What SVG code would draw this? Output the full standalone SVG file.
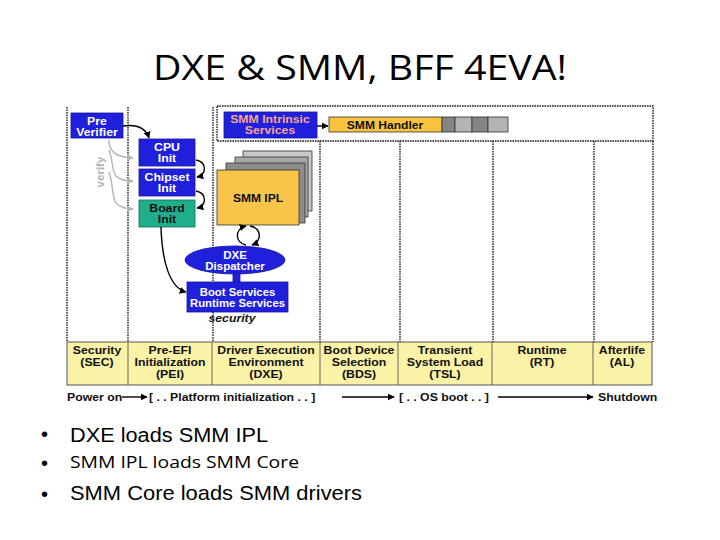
<svg xmlns="http://www.w3.org/2000/svg" width="720" height="540" viewBox="0 0 720 540">
<style>
.t{font-family:"Liberation Sans",Arial,sans-serif;font-weight:bold;font-size:10.5px;text-anchor:middle}
.w{fill:#ffffff}
.k{fill:#111111}
.pk{fill:#f4a48c}
.blue{fill:#2020dc;stroke:#15159a;stroke-width:0.8}
.dot{stroke:#1a1a1a;stroke-width:1.4;stroke-dasharray:1.6 0.9;fill:none}
.arr{stroke:#000;stroke-width:1.4;fill:none;marker-end:url(#ah)}
.garr{stroke:#b4b4b4;stroke-width:1.4;fill:none;marker-end:url(#gh)}
.bul{font-family:"Liberation Sans",Arial,sans-serif;fill:#000}
</style>
<defs>
<marker id="ah" viewBox="0 0 10 10" refX="9" refY="5" markerWidth="7" markerHeight="7" markerUnits="userSpaceOnUse" orient="auto"><path d="M0,0 L10,5 L0,10 z" fill="#000"/></marker>
<marker id="gh" viewBox="0 0 10 10" refX="9" refY="5" markerWidth="7" markerHeight="7" markerUnits="userSpaceOnUse" orient="auto"><path d="M0,0 L10,5 L0,10 z" fill="#b4b4b4"/></marker>
</defs>
<rect width="720" height="540" fill="#ffffff"/>

<text x="360" y="80" font-family="'Open Sans','Noto Sans',sans-serif" font-size="35" text-anchor="middle" textLength="414" lengthAdjust="spacingAndGlyphs" fill="#000">DXE &amp; SMM, BFF 4EVA!</text>

<g id="frame">
<path class="dot" d="M67,107 V342 M128,107 V342 M213,107 V342 M320,141 V342 M400,141 V342 M493,141 V342 M594,141 V342"/>
<rect class="dot" x="217" y="106" width="436" height="35"/>
<path class="dot" d="M653,141 V342"/>
</g>

<g id="phases">
<rect x="67" y="342" width="585" height="43" fill="#faf2a6" stroke="#555" stroke-width="1"/>
<path d="M128,342 V385 M212,342 V385 M320,342 V385 M398,342 V385 M492,342 V385 M593,342 V385" stroke="#666" stroke-width="1"/>
<g class="t k">
<text transform="translate(97 354) scale(1.17 1)">Security</text>
<text transform="translate(97 366) scale(1.17 1)">(SEC)</text>
<text transform="translate(170 354) scale(1.17 1)">Pre-EFI</text>
<text transform="translate(170 366) scale(1.17 1)">Initialization</text>
<text transform="translate(170 378) scale(1.17 1)">(PEI)</text>
<text transform="translate(266 354) scale(1.17 1)">Driver Execution</text>
<text transform="translate(266 366) scale(1.17 1)">Environment</text>
<text transform="translate(266 378) scale(1.17 1)">(DXE)</text>
<text transform="translate(359 354) scale(1.17 1)">Boot Device</text>
<text transform="translate(359 366) scale(1.17 1)">Selection</text>
<text transform="translate(359 378) scale(1.17 1)">(BDS)</text>
<text transform="translate(445 354) scale(1.17 1)">Transient</text>
<text transform="translate(445 366) scale(1.17 1)">System Load</text>
<text transform="translate(445 378) scale(1.17 1)">(TSL)</text>
<text transform="translate(542 354) scale(1.17 1)">Runtime</text>
<text transform="translate(542 366) scale(1.17 1)">(RT)</text>
<text transform="translate(622 354) scale(1.17 1)">Afterlife</text>
<text transform="translate(622 366) scale(1.17 1)">(AL)</text>
</g>
</g>

<g id="timeline" class="t k" style="text-anchor:start">
<text transform="translate(67 401) scale(1.17 1)">Power on</text>
<text transform="translate(149 401) scale(1.17 1)">[ . . Platform initialization . . ]</text>
<text transform="translate(399 401) scale(1.17 1)">[ . . OS boot . . ]</text>
<text transform="translate(598 401) scale(1.17 1)">Shutdown</text>
</g>

<g id="pre-verifier">
<rect class="blue" x="71" y="113" width="52" height="25"/>
<text class="t w" transform="translate(97 125) scale(1.17 1)">Pre</text>
<text class="t w" transform="translate(97 136) scale(1.17 1)">Verifier</text>
</g>
<g id="cpu-init">
<rect class="blue" x="139" y="139" width="56" height="27"/>
<text class="t w" transform="translate(167 151) scale(1.17 1)">CPU</text>
<text class="t w" transform="translate(167 162) scale(1.17 1)">Init</text>
</g>
<g id="chipset-init">
<rect class="blue" x="139" y="169" width="56" height="27"/>
<text class="t w" transform="translate(167 181) scale(1.17 1)">Chipset</text>
<text class="t w" transform="translate(167 192) scale(1.17 1)">Init</text>
</g>
<g id="board-init">
<rect x="139" y="200" width="56" height="27" fill="#1fae8c" stroke="#107058" stroke-width="0.8"/>
<text class="t k" transform="translate(167 212) scale(1.17 1)">Board</text>
<text class="t k" transform="translate(167 223) scale(1.17 1)">Init</text>
</g>
<g id="verify-label">
<text class="t" fill="#b4b4b4" font-size="11" transform="translate(104 172) rotate(-90) scale(1.1 1)">verify</text>
</g>

<g id="smm-intrinsic">
<rect class="blue" x="224" y="112" width="93" height="26"/>
<text class="t pk" transform="translate(270 123) scale(1.17 1)">SMM Intrinsic</text>
<text class="t pk" transform="translate(270 134) scale(1.17 1)">Services</text>
</g>
<g id="smm-handler">
<rect x="329" y="117" width="113" height="15" fill="#f8c440" stroke="#333" stroke-width="0.8"/>
<rect x="442" y="117" width="13" height="15" fill="#848484" stroke="#333" stroke-width="0.8"/>
<rect x="455" y="117" width="17" height="15" fill="#b4b4b4" stroke="#333" stroke-width="0.8"/>
<rect x="472" y="117" width="16" height="15" fill="#848484" stroke="#333" stroke-width="0.8"/>
<rect x="488" y="117" width="20" height="15" fill="#b4b4b4" stroke="#333" stroke-width="0.8"/>
<text class="t k" font-size="11" transform="translate(385 128.5) scale(1.15 1)">SMM Handler</text>
</g>

<g id="smm-ipl">
<rect x="243" y="151" width="69" height="60" fill="#c8c8c8" stroke="#333" stroke-width="0.8"/>
<rect x="235" y="157" width="73" height="60" fill="#a8a8a8" stroke="#333" stroke-width="0.8"/>
<rect x="226" y="163" width="79" height="60" fill="#8c8c8c" stroke="#333" stroke-width="0.8"/>
<rect x="217" y="170" width="82" height="55" fill="#f8c44a" stroke="#333" stroke-width="0.8"/>
<text class="t k" font-size="11" transform="translate(258 202) scale(1.15 1)">SMM IPL</text>
</g>

<g id="dxe-dispatcher">
<ellipse class="blue" cx="235" cy="260" rx="50" ry="14"/>
<text class="t w" font-size="9.5" transform="translate(235 258.5) scale(1.1 1)">DXE</text>
<text class="t w" font-size="9.5" transform="translate(235 269.5) scale(1.1 1)">Dispatcher</text>
</g>
<g id="boot-services">
<rect class="blue" x="233" y="273" width="7" height="10" stroke="none"/>
<rect class="blue" x="187" y="282" width="101" height="30"/>
<text class="t w" font-size="9.8" transform="translate(237.5 296) scale(1.08 1)">Boot Services</text>
<text class="t w" font-size="9.8" transform="translate(237.5 307) scale(1.08 1)">Runtime Services</text>
</g>
<g id="security-label">
<text class="t k" font-style="italic" transform="translate(232 322) scale(1.17 1)">security</text>
</g>

<g id="connectors">
<path class="arr" d="M123,126 C138,124 146,129 149,138"/>
<path class="arr" d="M196,160 C207,162 207,175 197,177"/>
<path class="arr" d="M196,191 C207,193 207,206 197,208"/>
<path class="garr" d="M109,140 C109,152 116,157 133,158"/>
<path class="garr" d="M109,150 C113,160 112,172 116,176 C120,180 125,181 133,181"/>
<path class="garr" d="M109,172 C113,182 112,198 116,203 C120,207 125,209 133,209"/>
<path class="arr" d="M161,227 C162,262 170,288 186,292"/>
<path class="arr" d="M317,126 L328,126"/>
<path class="arr" d="M246,245 C235,243 234,229 246,226"/>
<path class="arr" d="M250,226 C262,228 262,241 252,245"/>
<path class="arr" d="M122,397 L147,397"/>
<path class="arr" d="M342,397 L394,397"/>
<path class="arr" d="M498,397 L593,397"/>
</g>

<g id="bullets">
<text class="bul" x="41" y="441" font-size="20">•</text>
<text class="bul" x="70" y="442" font-size="20" textLength="198" lengthAdjust="spacingAndGlyphs">DXE loads SMM IPL</text>
<text class="bul" x="41" y="470" font-size="20">•</text>
<text x="70" y="468" font-family="'Open Sans','Noto Sans',sans-serif" font-size="16" fill="#000" textLength="229" lengthAdjust="spacingAndGlyphs">SMM IPL loads SMM Core</text>
<text class="bul" x="41" y="501" font-size="20">•</text>
<text class="bul" x="70" y="500" font-size="21" textLength="292" lengthAdjust="spacingAndGlyphs">SMM Core loads SMM drivers</text>
</g>
</svg>
